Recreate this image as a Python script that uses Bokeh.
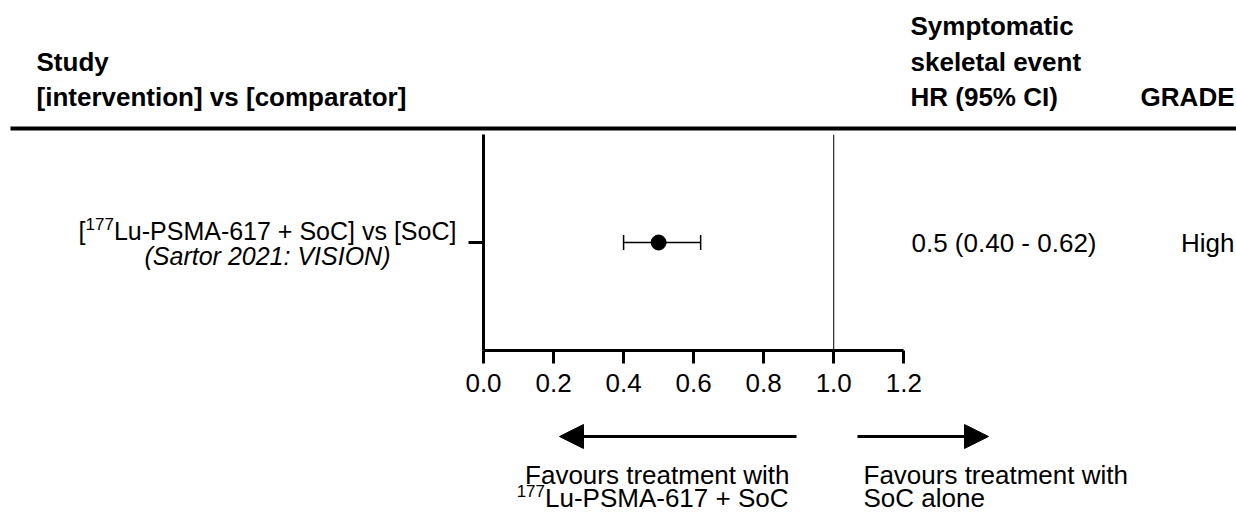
from bokeh.plotting import figure
from bokeh.layouts import column, row
from bokeh.models import (Range1d, FixedTicker, Span, Label, Arrow, NormalHead,
                          Whisker, TeeHead, ColumnDataSource)
from bokeh.embed import file_html
from bokeh.resources import INLINE

# ---- data -------------------------------------------------------------
study_intervention = ["Lu-PSMA-617 + SoC"]
study_comparator = ["SoC"]
isotope = ["177"]
study_source = ["Sartor 2021: VISION"]
hr = [0.5]
ci_low = [0.40]
ci_high = [0.62]
grade = ["High"]

x_ticks = [0.0, 0.2, 0.4, 0.6, 0.8, 1.0, 1.2]
tick_labels = ["0.0", "0.2", "0.4", "0.6", "0.8", "1.0", "1.2"]

header_study = ["Study", "[intervention] vs [comparator]"]
header_outcome = ["Symptomatic", "skeletal event", "HR (95% CI)"]
header_grade = "GRADE"
favours_left = ["Favours treatment with", "Lu-PSMA-617 + SoC"]
favours_right = ["Favours treatment with", "SoC alone"]

# ---- page geometry (px) ----------------------------------------------
W, H = 1236, 513
HEAD_H = 132                 # header band
MID_H = 270                  # forest plot band
FOOT_H = H - HEAD_H - MID_H  # arrows / captions band
LEFT_W = 458                 # study labels column
FL, FT, FB = 483, 134, 350   # plot frame: left, top, bottom (page px)
X_END = 2.15
ROW_PX = (FB - FT) / 2.0     # px per y unit in the plot (y range -1..1)
FONT = "Liberation Sans"
BASELINE_FIX = 0.365         # label anchor sits this many em below baseline

# Arial / Liberation Sans advance widths (per 1000 em)
ADV = {' ': 278, '(': 333, ')': 333, '+': 584, '-': 333, '.': 278, ':': 278,
       '[': 278, ']': 278, '%': 889, 'A': 667, 'C': 722, 'L': 556, 'M': 833,
       'P': 667, 'S': 667, 'a': 556, 'e': 556, 'l': 222, 'n': 556, 'o': 556,
       'r': 333, 's': 500, 'u': 556, 'v': 500}
for d in "0123456789":
    ADV[d] = 556


def text_width(s, size):
    return sum(ADV.get(c, 556) for c in s) * size / 1000.0


def blank(width, height, x_range, y_range, **borders):
    f = figure(width=width, height=height, output_backend="svg",
               toolbar_location=None, x_range=x_range, y_range=y_range,
               x_axis_location=None, y_axis_location=None, min_border=0,
               outline_line_color=None, background_fill_color="white",
               border_fill_color="white", **borders)
    f.grid.visible = False
    return f


def add_text(f, text, x, y, px_per_unit, size=26, align="left",
             style="normal"):
    """Place text with its baseline at y (data units of figure f)."""
    y = y + BASELINE_FIX * size / px_per_unit
    f.add_layout(Label(x=x, y=y, text=text, text_font=FONT,
                       text_font_size=f"{size}px", text_font_style=style,
                       text_align=align, text_baseline="alphabetic",
                       text_color="black"))


# ---- header band: page px coordinates (y grows downward) -------------
head = blank(W, HEAD_H, Range1d(0, W), Range1d(HEAD_H, 0))
add_text(head, header_study[0], 36, 70.5, -1, style="bold")
add_text(head, header_study[1], 36, 106, -1, style="bold")
for txt, by in zip(header_outcome, [35, 70.5, 106]):
    add_text(head, txt, 910, by, -1, style="bold")
add_text(head, header_grade, 1234, 106, -1, align="right", style="bold")
head.segment(x0=[10], y0=[128], x1=[W], y1=[128], line_color="black",
             line_width=4)

# ---- forest plot -------------------------------------------------------
main_w = W - LEFT_W
BORDER_T = FT - HEAD_H
BORDER_B = HEAD_H + MID_H - FB
p = figure(width=main_w, height=MID_H, output_backend="svg",
           toolbar_location=None, x_range=Range1d(0, X_END),
           y_range=Range1d(-1, 1),
           min_border_left=FL - LEFT_W, min_border_right=0,
           min_border_top=BORDER_T, min_border_bottom=BORDER_B,
           background_fill_color="white", border_fill_color="white",
           outline_line_color=None)
p.xgrid.visible = False
p.ygrid.visible = False
XPX = (W - FL) / X_END       # px per HR unit

xa = p.xaxis[0]
xa.bounds = (0, 1.2)
xa.ticker = FixedTicker(ticks=x_ticks)
xa.major_label_overrides = {t: l for t, l in zip(x_ticks, tick_labels)}
xa.axis_line_width = 3
xa.major_tick_line_width = 3
xa.major_tick_out = 13
xa.major_tick_in = 0
xa.minor_tick_line_color = None
xa.major_label_text_font = FONT
xa.major_label_text_font_size = "26px"
xa.major_label_text_color = "black"
xa.major_label_standoff = 10

ya = p.yaxis[0]
ya.ticker = FixedTicker(ticks=[0])
ya.major_label_overrides = {0: ""}
ya.major_label_standoff = 0
ya.axis_line_width = 3
ya.major_tick_line_width = 3
ya.major_tick_out = 15
ya.major_tick_in = 0
ya.minor_tick_line_color = None

# line of no effect
p.add_layout(Span(location=1.0, dimension="height", line_color="black",
                  line_width=1))

rows = list(range(len(hr)))
src = ColumnDataSource(dict(y=rows, hr=hr, lo=ci_low, hi=ci_high))
p.add_layout(Whisker(source=src, base="y", lower="lo", upper="hi",
                     dimension="width", line_color="black", line_width=1.5,
                     lower_head=TeeHead(size=15, line_width=1.5),
                     upper_head=TeeHead(size=15, line_width=1.5)))
p.scatter(x="hr", y="y", source=src, size=15, marker="circle",
          fill_color="black", line_color="black")

# effect estimate and certainty columns (inside the plot frame)
for i in rows:
    base_y = rows[i] - 9.5 / ROW_PX
    add_text(p, f"{hr[i]} ({ci_low[i]:.2f} - {ci_high[i]:.2f})",
             (911 - FL) / XPX, base_y, ROW_PX)
    add_text(p, grade[i], (1234 - FL) / XPX, base_y, ROW_PX, align="right")

# ---- study label column: shares the plot's y scale and frame rows -----
left = blank(LEFT_W, MID_H, Range1d(0, LEFT_W), p.y_range,
             min_border_top=BORDER_T, min_border_bottom=BORDER_B)
SUP = 17
CX = 267
for i in rows:
    main = f"{study_intervention[i]}] vs [{study_comparator[i]}]"
    total = (text_width("[", 25) + text_width(isotope[i], SUP)
             + text_width(main, 25))
    x0 = CX - total / 2
    b1 = rows[i] + 2.5 / ROW_PX
    add_text(left, "[", x0, b1, ROW_PX, size=25)
    x1 = x0 + text_width("[", 25)
    add_text(left, isotope[i], x1, b1 + 10 / ROW_PX, ROW_PX, size=SUP)
    add_text(left, main, x1 + text_width(isotope[i], SUP), b1, ROW_PX,
             size=25)
    add_text(left, f"({study_source[i]})", CX, b1 - 25 / ROW_PX, ROW_PX,
             size=25, align="center", style="italic")

# ---- footer: direction arrows and captions, page px coordinates -------
top = HEAD_H + MID_H
foot = blank(W, FOOT_H, Range1d(0, W), Range1d(H, top))
ARROW_Y = 436
for xs, xe in [(796, 559), (857, 988)]:
    foot.add_layout(Arrow(end=NormalHead(size=24, fill_color="black",
                                         line_color="black", line_width=1),
                          x_start=xs, y_start=ARROW_Y, x_end=xe,
                          y_end=ARROW_Y, line_width=3, line_color="black"))
add_text(foot, favours_left[0], 789, 484, -1, align="right")
add_text(foot, favours_left[1], 788, 507, -1, align="right")
add_text(foot, isotope[0], 788 - text_width(favours_left[1], 26), 496.5, -1,
         size=SUP, align="right")
add_text(foot, favours_right[0], 863, 484, -1)
add_text(foot, favours_right[1], 863, 507, -1)

layout = column(head, row(left, p), foot)
open("out.html", "w").write(file_html(layout, INLINE))
